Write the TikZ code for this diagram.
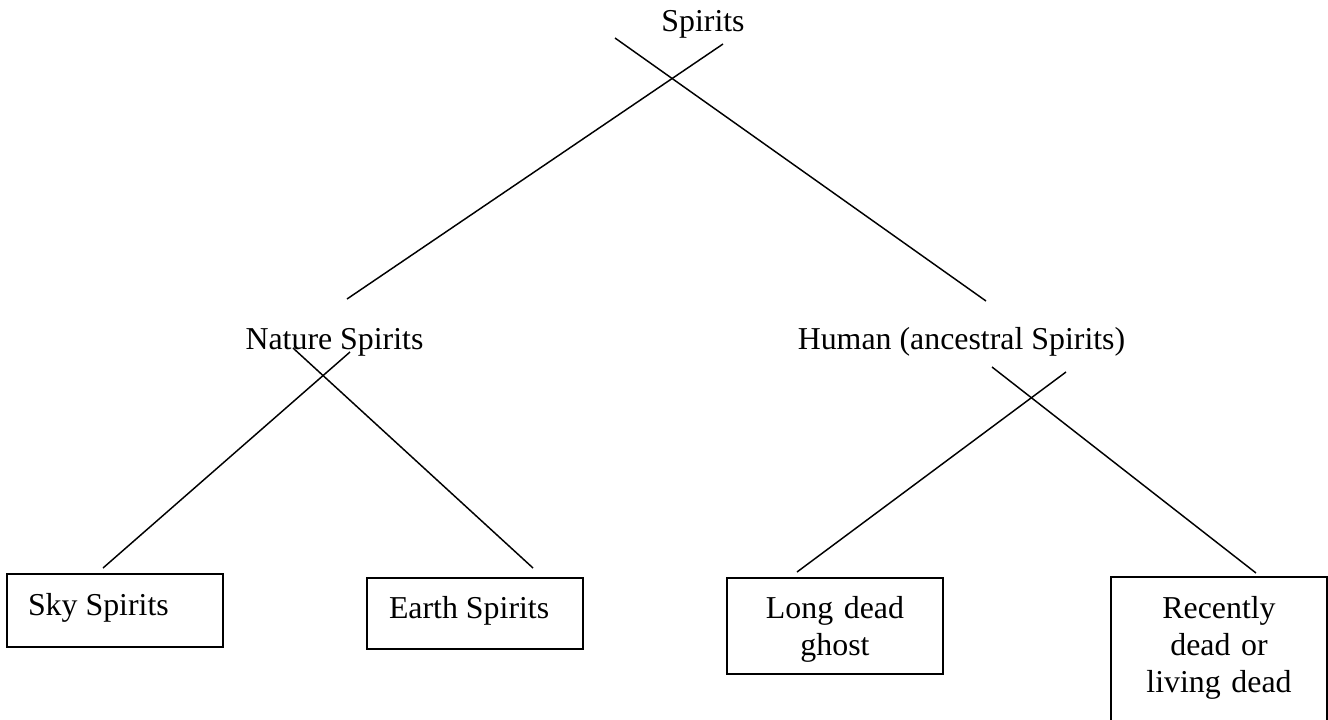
\documentclass[tikz,border=0pt]{standalone}
\usepackage{fontspec}
\setmainfont{Liberation Serif}
\begin{document}
\begin{tikzpicture}[x=0.75pt,y=-0.75pt,
  every node/.style={font=\fontsize{23.9}{27.75}\selectfont, inner sep=0pt, outer sep=0pt},
  boxshape/.style={draw, line width=1.1pt, minimum width=162pt},
  conn/.style={line width=1.1pt},
  lbl/.style={anchor=base},
  boxtxt/.style={anchor=base, text width=150pt, align=center}]
\useasboundingbox (0,0) rectangle (1328,719);
\clip (0,0) rectangle (1328,719);
% text nodes
\node[lbl] (spirits) at (703,31) {Spirits};
\node[lbl] (nature) at (334.5,349) {Nature Spirits};
\node[lbl] (human) at (961.5,349) {Human (ancestral Spirits)};
% boxes
\node[boxshape, minimum height=54.75pt] (skybox) at (115,610.5) {};
\node[boxshape, minimum height=53.25pt] (earthbox) at (475,613.5) {};
\node[boxshape, minimum height=72pt] (longbox) at (835,626) {};
\node[boxshape, minimum height=137.25pt] (recentbox) at (1219,668.5) {};
\node[anchor=base west] (skytext) at (28,615) {Sky Spirits};
\node[anchor=base west] (earthtext) at (389,618) {Earth Spirits};
\node[boxtxt] (longtext) at (835,618) {Long dead\\ghost};
\node[boxtxt] (recenttext) at (1219,618) {Recently\\dead or\\living dead};
% connector end points
\coordinate (a1) at (615,38);  \coordinate (a2) at (986,301);
\coordinate (b1) at (723,44);  \coordinate (b2) at (347,299);
\coordinate (c1) at (293,348); \coordinate (c2) at (533,568);
\coordinate (d1) at (350,352); \coordinate (d2) at (103,568);
\coordinate (e1) at (992,367); \coordinate (e2) at (1256,573);
\coordinate (f1) at (1066,372); \coordinate (f2) at (797,572);
\draw[conn] (a1) -- (a2);
\draw[conn] (b1) -- (b2);
\draw[conn] (c1) -- (c2);
\draw[conn] (d1) -- (d2);
\draw[conn] (e1) -- (e2);
\draw[conn] (f1) -- (f2);
\end{tikzpicture}
\end{document}
